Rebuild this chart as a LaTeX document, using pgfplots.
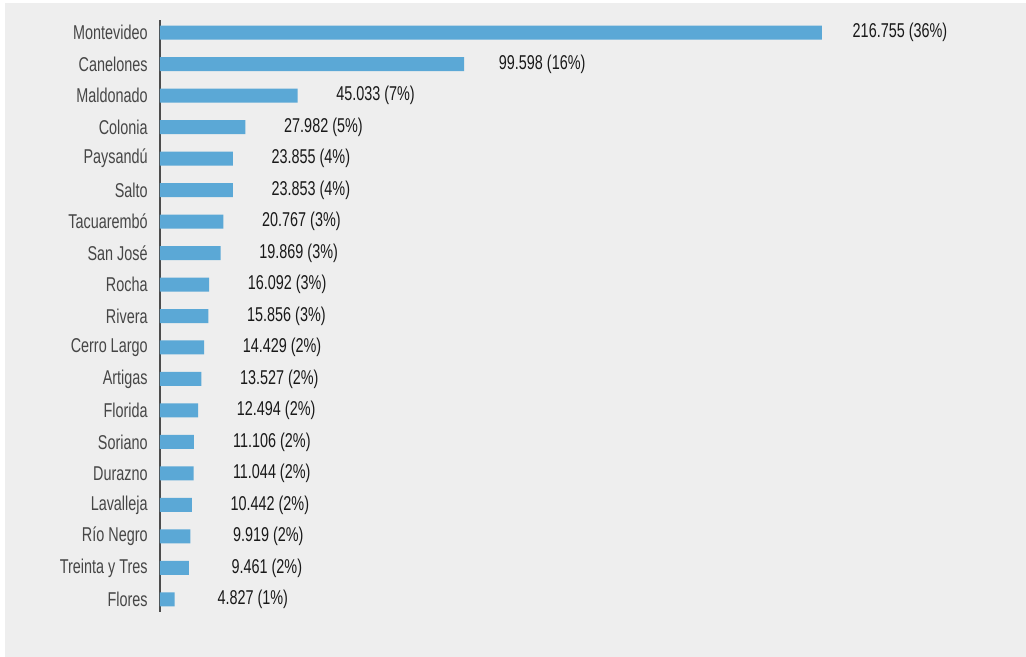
\documentclass[border=0pt]{standalone}
\usepackage{pgfplots}
\pgfplotsset{compat=1.18}
\usepackage{fontspec}
\setmainfont{Liberation Sans}[FakeStretch=0.72]
\definecolor{barc}{RGB}{91,168,214}
\definecolor{bgc}{RGB}{238,238,238}
\definecolor{labc}{RGB}{70,70,70}
\definecolor{valc}{RGB}{25,25,25}
\begin{document}
\begin{tikzpicture}
\fill[white] (0pt,0pt) rectangle (769.5pt,492.75pt);
\fill[bgc] (3.75pt,0pt) rectangle (769.5pt,490.5pt);
\begin{axis}[
  at={(120pt,33.75pt)}, anchor=south west,
  scale only axis, width=630pt, height=444pt,
  xbar, bar width=10.5pt,
  xmin=0, xmax=275050,
  ymin=-0.4, ymax=18.4, y dir=reverse,
  axis x line=none, axis y line*=left,
  axis line style={draw=black!70, line width=0.8pt},
  ytick={0,...,18},
  yticklabels={Montevideo,Canelones,Maldonado,Colonia,Paysandú,Salto,Tacuarembó,San José,Rocha,Rivera,Cerro Largo,Artigas,Florida,Soriano,Durazno,Lavalleja,Río Negro,Treinta y Tres,Flores},
  ytick style={draw=none},
  yticklabel style={font=\fontsize{15pt}{17pt}\selectfont, text=labc, xshift=-1.5pt},
  point meta=explicit symbolic,
  nodes near coords,
  every node near coord/.append style={anchor=center, xshift=58.5pt, font=\fontsize{15pt}{17pt}\selectfont, text=valc},
]
\addplot[fill=barc, draw=none] coordinates {
(216755,0) [216.755 (36\%)]
(99598,1) [99.598 (16\%)]
(45033,2) [45.033 (7\%)]
(27982,3) [27.982 (5\%)]
(23855,4) [23.855 (4\%)]
(23853,5) [23.853 (4\%)]
(20767,6) [20.767 (3\%)]
(19869,7) [19.869 (3\%)]
(16092,8) [16.092 (3\%)]
(15856,9) [15.856 (3\%)]
(14429,10) [14.429 (2\%)]
(13527,11) [13.527 (2\%)]
(12494,12) [12.494 (2\%)]
(11106,13) [11.106 (2\%)]
(11044,14) [11.044 (2\%)]
(10442,15) [10.442 (2\%)]
(9919,16) [9.919 (2\%)]
(9461,17) [9.461 (2\%)]
(4827,18) [4.827 (1\%)]
};
\end{axis}
\end{tikzpicture}
\end{document}
